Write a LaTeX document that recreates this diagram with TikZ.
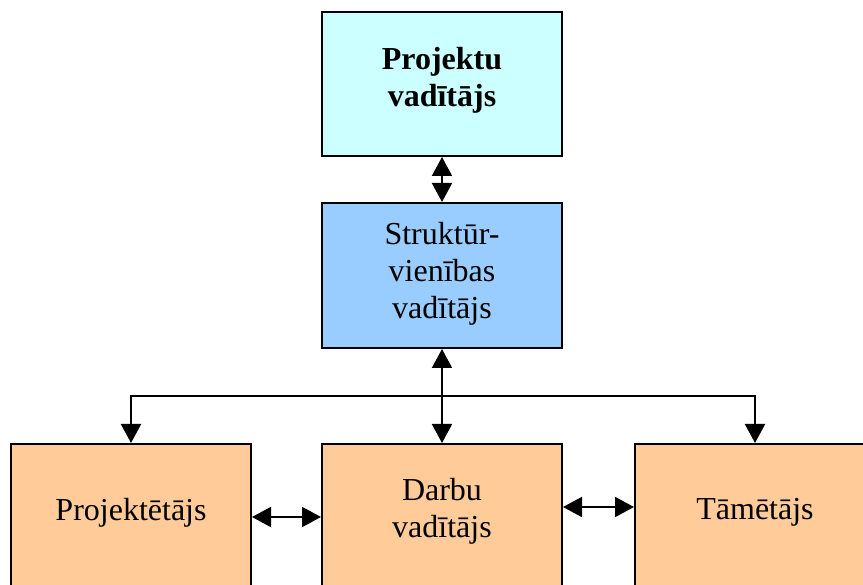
\documentclass[tikz,border=0pt]{standalone}
\usepackage{fontspec}
\setmainfont{Liberation Serif}
\usetikzlibrary{arrows.meta}
\definecolor{headfill}{HTML}{CCFFFF}
\definecolor{unitfill}{HTML}{99CCFF}
\definecolor{teamfill}{HTML}{FFCC99}
\begin{document}
\begin{tikzpicture}[x=1pt,y=-1pt,
  box/.style={draw=black, line width=2pt, minimum width=240pt, inner sep=0pt},
  lbl/.style={align=center, inner sep=0pt, font=\fontsize{32}{37}\selectfont},
  tip/.style={Triangle[length=19pt,width=20pt]},
  link/.style={line width=2pt, {Triangle[length=19pt,width=20pt]}-{Triangle[length=19pt,width=20pt]}},
  down/.style={line width=2pt, -{Triangle[length=19pt,width=20pt]}}]
  \clip (0,0) rectangle (863,585);
  \fill[white] (0,0) rectangle (863,585);

  % boxes
  \node[box, fill=headfill, minimum height=144pt] (top) at (442,84) {};
  \node[box, fill=unitfill, minimum height=145pt] (mid) at (442,275.5) {};
  \node[box, fill=teamfill, minimum height=143pt] (design) at (131,515.5) {};
  \node[box, fill=teamfill, minimum height=143pt] (work) at (442,515.5) {};
  \node[box, fill=teamfill, minimum height=143pt] (est) at (755,515.5) {};

  % labels
  \node[lbl, font=\fontsize{32}{37}\selectfont\bfseries] (topT) at ([yshift=4pt]top.center) {Projektu\\vadītājs};
  \node[lbl] (midT) at ([yshift=2pt]mid.center) {Struktūr-\\vienības\\vadītājs};
  \node[lbl] (designT) at ([yshift=3pt]design.center) {Projektētājs};
  \node[lbl] (workT) at ([yshift=4pt]work.center) {Darbu\\vadītājs};
  \node[lbl] (estT) at ([yshift=3pt]est.center) {Tāmētājs};

  % connectors
  \coordinate (bar) at (442,396);
  \draw[link] (top.south) -- (mid.north);
  \draw[link] (mid.south) -- (work.north);
  \draw[down] (bar) -| (design.north);
  \draw[down] (bar) -| (est.north);
  \draw[link] ([yshift=-1.5pt]design.east) -- ([yshift=-1.5pt]work.west);
  \draw[link] ([yshift=8.5pt]work.east) -- ([yshift=8.5pt]est.west);
\end{tikzpicture}
\end{document}
